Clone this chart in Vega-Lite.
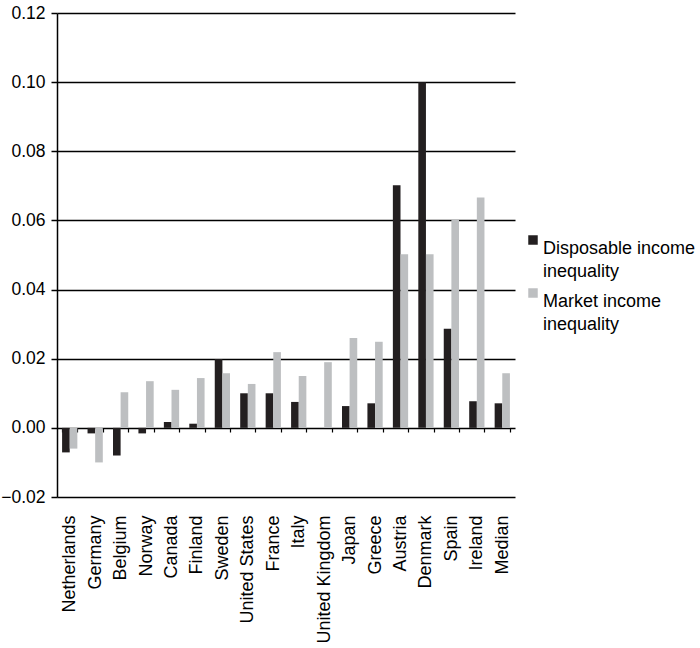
{
  "$schema": "https://vega.github.io/schema/vega-lite/v6.json",
  "width": 458,
  "height": 484,
  "autosize": {"type": "none"},
  "padding": {"left": 57, "top": 13, "right": 185, "bottom": 151},
  "background": "white",
  "config": {
    "view": {"stroke": null},
    "font": "Liberation Sans",
    "style": {"guide-label": {"lineHeight": 23}}
  },
  "data": {
    "values": [
      {"country": "Netherlands", "type": "Disposable income inequality", "value": -0.0071},
      {"country": "Netherlands", "type": "Market income inequality", "value": -0.006},
      {"country": "Germany", "type": "Disposable income inequality", "value": -0.0016},
      {"country": "Germany", "type": "Market income inequality", "value": -0.010},
      {"country": "Belgium", "type": "Disposable income inequality", "value": -0.008},
      {"country": "Belgium", "type": "Market income inequality", "value": 0.0103},
      {"country": "Norway", "type": "Disposable income inequality", "value": -0.0016},
      {"country": "Norway", "type": "Market income inequality", "value": 0.0135},
      {"country": "Canada", "type": "Disposable income inequality", "value": 0.0017},
      {"country": "Canada", "type": "Market income inequality", "value": 0.011},
      {"country": "Finland", "type": "Disposable income inequality", "value": 0.0012},
      {"country": "Finland", "type": "Market income inequality", "value": 0.0144},
      {"country": "Sweden", "type": "Disposable income inequality", "value": 0.0199},
      {"country": "Sweden", "type": "Market income inequality", "value": 0.0158},
      {"country": "United States", "type": "Disposable income inequality", "value": 0.010},
      {"country": "United States", "type": "Market income inequality", "value": 0.0127},
      {"country": "France", "type": "Disposable income inequality", "value": 0.010},
      {"country": "France", "type": "Market income inequality", "value": 0.0219},
      {"country": "Italy", "type": "Disposable income inequality", "value": 0.0075},
      {"country": "Italy", "type": "Market income inequality", "value": 0.015},
      {"country": "United Kingdom", "type": "Disposable income inequality", "value": 0.0},
      {"country": "United Kingdom", "type": "Market income inequality", "value": 0.019},
      {"country": "Japan", "type": "Disposable income inequality", "value": 0.0063},
      {"country": "Japan", "type": "Market income inequality", "value": 0.026},
      {"country": "Greece", "type": "Disposable income inequality", "value": 0.0071},
      {"country": "Greece", "type": "Market income inequality", "value": 0.0249},
      {"country": "Austria", "type": "Disposable income inequality", "value": 0.0702},
      {"country": "Austria", "type": "Market income inequality", "value": 0.0502},
      {"country": "Denmark", "type": "Disposable income inequality", "value": 0.100},
      {"country": "Denmark", "type": "Market income inequality", "value": 0.0502},
      {"country": "Spain", "type": "Disposable income inequality", "value": 0.0287},
      {"country": "Spain", "type": "Market income inequality", "value": 0.0603},
      {"country": "Ireland", "type": "Disposable income inequality", "value": 0.0077},
      {"country": "Ireland", "type": "Market income inequality", "value": 0.0666},
      {"country": "Median", "type": "Disposable income inequality", "value": 0.0071},
      {"country": "Median", "type": "Market income inequality", "value": 0.0158}
    ]
  },
  "mark": {"type": "bar"},
  "encoding": {
    "x": {
      "field": "country",
      "type": "nominal",
      "sort": null,
      "scale": {"paddingInner": 0.4, "paddingOuter": 0.2},
      "axis": {
        "title": null,
        "offset": -69,
        "domain": false,
        "ticks": true,
        "tickBand": "extent",
        "tickSize": 4,
        "tickColor": "#000",
        "tickWidth": 1.2,
        "labelAngle": -90,
        "labelAlign": "right",
        "labelBaseline": "middle",
        "labelPadding": 83,
        "labelFontSize": 18,
        "labelColor": "#000",
        "labelFont": "Liberation Sans",
        "grid": false
      }
    },
    "xOffset": {"field": "type", "type": "nominal", "sort": ["Disposable income inequality", "Market income inequality"]},
    "y": {
      "field": "value",
      "type": "quantitative",
      "scale": {"domain": [-0.02, 0.12], "nice": false, "zero": false},
      "axis": {
        "title": null,
        "values": [-0.02, 0, 0.02, 0.04, 0.06, 0.08, 0.1, 0.12],
        "format": ".2f",
        "grid": true,
        "gridColor": "#000",
        "gridWidth": 1.5,
        "gridOpacity": 1,
        "domain": true,
        "domainColor": "#000",
        "domainWidth": 1.5,
        "tickColor": "#000",
        "tickSize": 6,
        "tickWidth": 1.5,
        "labelPadding": 6,
        "labelFontSize": 17.5,
        "labelColor": "#000",
        "labelFont": "Liberation Sans"
      }
    },
    "color": {
      "field": "type",
      "type": "nominal",
      "sort": ["Disposable income inequality", "Market income inequality"],
      "scale": {"range": ["#231f20", "#bdbfc1"]},
      "legend": {
        "title": null,
        "orient": "none",
        "legendX": 467,
        "legendY": 218,
        "symbolType": "square",
        "symbolSize": 90,
        "symbolStrokeWidth": 0,
        "labelFontSize": 18,
        "labelColor": "#000",
        "labelFont": "Liberation Sans",
        "labelBaseline": "top",
        "labelOffset": 1,
        "rowPadding": 3,
        "labelLimit": 300,
        "labelExpr": "datum.label == 'Disposable income inequality' ? ['Disposable income', 'inequality'] : ['Market income', 'inequality']"
      }
    }
  }
}
